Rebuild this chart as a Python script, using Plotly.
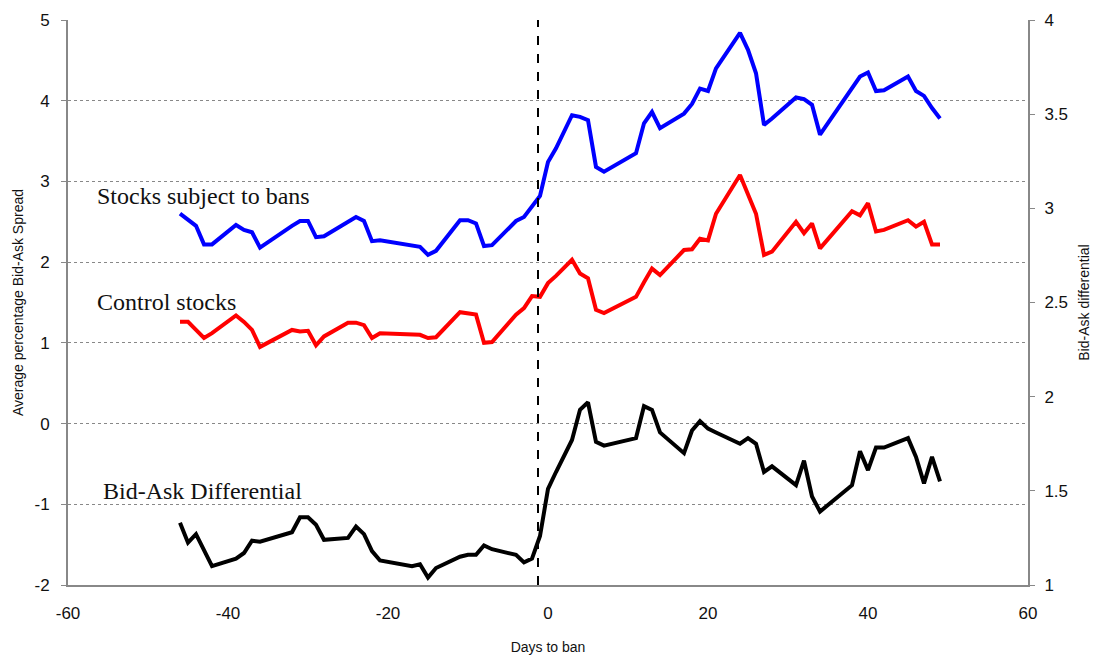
import plotly.graph_objects as go

days = [-46, -45, -44, -43, -42, -39, -38, -37, -36, -32, -31, -30, -29, -28,
        -25, -24, -23, -22, -21, -17, -16, -15, -14, -11, -10, -9, -8, -7,
        -4, -3, -2, -1, 0, 1, 3, 4, 5, 6, 7, 11, 12, 13, 14, 17, 18, 19, 20, 21,
        24, 25, 26, 27, 28, 31, 32, 33, 34, 38, 39, 40, 41, 42, 45, 46, 47, 48, 49]

banned = [2.60, 2.52, 2.45, 2.22, 2.22, 2.46, 2.40, 2.37, 2.18, 2.45, 2.51, 2.51, 2.31, 2.32,
          2.50, 2.56, 2.51, 2.26, 2.27, 2.21, 2.19, 2.09, 2.14, 2.52, 2.52, 2.48, 2.20, 2.21,
          2.51, 2.56, 2.70, 2.82, 3.24, 3.41, 3.82, 3.80, 3.76, 3.18, 3.12, 3.35, 3.72, 3.86, 3.66,
          3.84, 3.96, 4.15, 4.12, 4.40, 4.84, 4.63, 4.34, 3.70, 3.78, 4.04, 4.02, 3.95, 3.58,
          4.16, 4.30, 4.35, 4.12, 4.13, 4.30, 4.12, 4.06, 3.91, 3.78]

control = [1.26, 1.26, 1.16, 1.06, 1.12, 1.34, 1.26, 1.16, 0.95, 1.16, 1.14, 1.15, 0.97, 1.08,
           1.25, 1.25, 1.22, 1.06, 1.12, 1.11, 1.10, 1.06, 1.07, 1.38, 1.37, 1.35, 1.00, 1.01,
           1.35, 1.43, 1.58, 1.57, 1.74, 1.83, 2.03, 1.86, 1.80, 1.41, 1.37, 1.57, 1.75, 1.92, 1.84,
           2.15, 2.16, 2.29, 2.27, 2.60, 3.08, 2.85, 2.60, 2.09, 2.13, 2.50, 2.36, 2.48, 2.17,
           2.63, 2.58, 2.73, 2.38, 2.40, 2.52, 2.44, 2.50, 2.22, 2.22]

differential = [1.33, 1.225, 1.27, 1.18, 1.10, 1.14, 1.17, 1.235, 1.23, 1.28, 1.36, 1.36, 1.32, 1.24,
                1.25, 1.31, 1.27, 1.18, 1.13, 1.10, 1.11, 1.04, 1.09, 1.15, 1.16, 1.16, 1.21, 1.19,
                1.16, 1.12, 1.14, 1.26, 1.51, 1.60, 1.77, 1.93, 1.97, 1.76, 1.74, 1.78, 1.95, 1.93, 1.81,
                1.70, 1.82, 1.87, 1.83, 1.81, 1.75, 1.78, 1.75, 1.60, 1.63, 1.53, 1.66, 1.47, 1.39,
                1.53, 1.71, 1.61, 1.73, 1.73, 1.78, 1.68, 1.54, 1.68, 1.55]

x_ticks = [-60, -40, -20, 0, 20, 40, 60]
x_labels = ["-60", "-40", "-20", "0", "20", "40", "60"]
left_ticks = [-2, -1, 0, 1, 2, 3, 4, 5]
left_labels = ["-2", "-1", "0", "1", "2", "3", "4", "5"]
right_ticks = [1, 1.5, 2, 2.5, 3, 3.5, 4]
right_labels = ["1", "1.5", "2", "2.5", "3", "3.5", "4"]
ban_day = -1.25

tick_font = dict(family="Liberation Sans, Arial", size=17, color="#111")
title_font = dict(family="Liberation Sans, Arial", size=14, color="#111")
serif = dict(family="Liberation Serif, Times New Roman", size=24, color="#111")

fig = go.Figure()
fig.add_trace(go.Scatter(x=days, y=banned, mode="lines", line=dict(color="#0000ff", width=4),
                         name="Stocks subject to bans"))
fig.add_trace(go.Scatter(x=days, y=control, mode="lines", line=dict(color="#ff0000", width=4),
                         name="Control stocks"))
fig.add_trace(go.Scatter(x=days, y=differential, mode="lines", line=dict(color="#000000", width=4),
                         name="Bid-Ask Differential", yaxis="y2"))

fig.add_shape(type="line", xref="x", yref="paper", x0=ban_day, x1=ban_day, y0=0, y1=1,
              line=dict(color="black", width=2, dash="dash"))

fig.add_annotation(x=-56.6, y=2.82, xref="x", yref="y", text="Stocks subject to bans",
                   showarrow=False, xanchor="left", font=serif)
fig.add_annotation(x=-56.6, y=1.51, xref="x", yref="y", text="Control stocks",
                   showarrow=False, xanchor="left", font=serif)
fig.add_annotation(x=-55.9, y=-0.84, xref="x", yref="y", text="Bid-Ask Differential",
                   showarrow=False, xanchor="left", font=serif)

fig.update_layout(
    width=1102, height=662,
    margin=dict(l=60, r=82, t=12, b=85),
    plot_bgcolor="white", paper_bgcolor="white",
    showlegend=False,
    xaxis=dict(range=[-60, 60], tickvals=x_ticks, ticktext=x_labels, showgrid=False,
               zeroline=False, showline=True, linecolor="#888", linewidth=2, ticks="",
               ticklabelstandoff=12, automargin=False,
               tickfont=tick_font, title=dict(text="Days to ban", font=title_font, standoff=20)),
    yaxis=dict(range=[-2, 5], tickvals=left_ticks, ticktext=left_labels, showgrid=True,
               gridcolor="#888", griddash="dot", gridwidth=1, zeroline=False, showline=True,
               linecolor="#888", linewidth=2, ticks="outside", ticklen=5, tickcolor="#888",
               ticklabelstandoff=8, tickfont=tick_font, automargin=False,
               title=dict(text="Average percentage Bid-Ask Spread", font=title_font, standoff=8)),
    yaxis2=dict(range=[1, 4], tickvals=right_ticks, ticktext=right_labels, overlaying="y",
                side="right", showgrid=False, zeroline=False, showline=True, linecolor="#888",
                linewidth=2, ticks="outside", ticklen=5, tickcolor="#888", tickfont=tick_font,
                ticklabelstandoff=6, automargin=False,
                title=dict(text="Bid-Ask differential", font=title_font, standoff=12)),
)

fig.write_html("out.html")
